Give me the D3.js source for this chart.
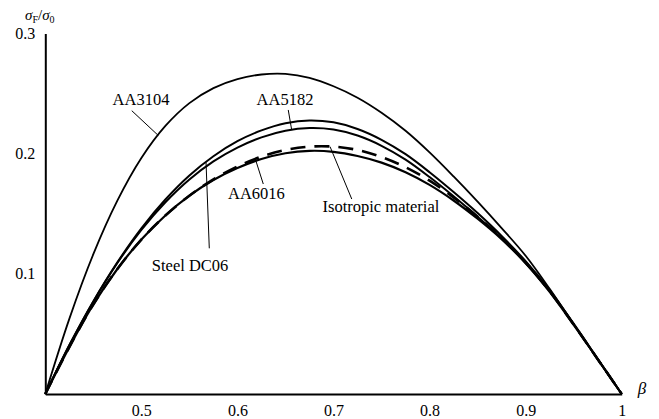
<!DOCTYPE html>
<html>
<head>
<meta charset="utf-8">
<script src="https://cdn.jsdelivr.net/npm/d3@7"></script>
<style>
  html, body { margin: 0; padding: 0; background: #fff; }
  svg { display: block; }
  svg text { font-family: "Liberation Serif", "DejaVu Serif", serif !important; fill: #000; }
</style>
</head>
<body>
<svg id="chart" width="659" height="419"></svg>
<script>
// Strain ratio beta (x) and normalised stress sigma_F/sigma_0 (y) for each material
const beta = [0.40, 0.425, 0.45, 0.475, 0.50, 0.525, 0.55, 0.575, 0.60, 0.625, 0.65, 0.675,
              0.70, 0.725, 0.75, 0.775, 0.80, 0.825, 0.85, 0.875, 0.90, 0.925, 0.95, 0.975, 1.00];

const aa3104 = [0, 0.0625, 0.1163, 0.1608, 0.1963, 0.2230, 0.2420, 0.2545, 0.2620, 0.2658, 0.2663, 0.2630,
                0.2560, 0.2465, 0.2340, 0.2190, 0.2010, 0.1810, 0.1600, 0.1380, 0.1150, 0.0875, 0.0580, 0.0290, 0];
const steelDC06 = [0, 0.0405, 0.0770, 0.1095, 0.1378, 0.1618, 0.1818, 0.1978, 0.2103, 0.2193, 0.2253, 0.2276,
                   0.2260, 0.2205, 0.2115, 0.1995, 0.1845, 0.1680, 0.1505, 0.1315, 0.1105, 0.0865, 0.0585, 0.0293, 0];
const aa5182 = [0, 0.0405, 0.0770, 0.1090, 0.1365, 0.1595, 0.1785, 0.1935, 0.2050, 0.2135, 0.2190, 0.2212,
                0.2200, 0.2150, 0.2065, 0.1950, 0.1805, 0.1645, 0.1475, 0.1295, 0.1090, 0.0855, 0.0580, 0.0290, 0];
const isotropic = [0, 0.0390, 0.0745, 0.1040, 0.1285, 0.1485, 0.1650, 0.1785, 0.1893, 0.1975, 0.2030, 0.2058,
                   0.2058, 0.2030, 0.1972, 0.1887, 0.1775, 0.1635, 0.1475, 0.1297, 0.1095, 0.0855, 0.0578, 0.0290, 0];
const aa6016 = [0, 0.0390, 0.0745, 0.1040, 0.1285, 0.1485, 0.1650, 0.1780, 0.1880, 0.1955, 0.2003, 0.2023,
                0.2015, 0.1980, 0.1925, 0.1845, 0.1740, 0.1610, 0.1458, 0.1288, 0.1088, 0.0850, 0.0575, 0.0290, 0];

const xTicks = [0.5, 0.6, 0.7, 0.8, 0.9, 1];
const yTicks = [0.1, 0.2, 0.3];

// Annotation texts, their anchor in data units, and where the leader meets its curve
const labelNames   = ["AA3104", "AA5182", "Steel DC06", "AA6016", "Isotropic material"];
const labelBeta    = [0.4996, 0.6495, 0.5507, 0.6198, 0.7494];
const labelValue   = [0.2454, 0.2454, 0.1073, 0.1664, 0.1564];
const leaderFromB  = [0.490, 0.6529, 0.5707, 0.6269, 0.7190];
const leaderFromV  = [0.2357, 0.2363, 0.1212, 0.1747, 0.1622];
const leaderToB    = [0.5176, 0.6565, 0.5673, 0.6193, 0.6964];

const series = [
  { name: "AA3104", values: aa3104, width: 1.8, dash: null },
  { name: "Steel DC06", values: steelDC06, width: 2.0, dash: null },
  { name: "AA5182", values: aa5182, width: 2.0, dash: null },
  { name: "AA6016", values: aa6016, width: 2.2, dash: null },
  { name: "Isotropic material", values: isotropic, width: 2.6, dash: "15,9" }
];

const FONT = "Liberation Serif, DejaVu Serif, serif";
const svg = d3.select("#chart").attr("font-family", FONT);
const x = d3.scaleLinear().domain([0.4, 1]).range([45.3, 621.7]);
const y = d3.scaleLinear().domain([0, 0.3]).range([394, 33.4]);

// Axes: plain lines with labels only
const xAxis = svg.append("g")
  .attr("transform", `translate(0,${y(0)})`)
  .call(d3.axisBottom(x).tickValues(xTicks).tickSize(0).tickPadding(11).tickFormat(d3.format("")));
const yAxis = svg.append("g")
  .attr("transform", `translate(${x(0.4)},0)`)
  .call(d3.axisLeft(y).tickValues(yTicks).tickSize(0).tickPadding(10).tickFormat(d3.format("")));
[xAxis, yAxis].forEach(g => {
  g.attr("font-family", FONT).attr("font-size", 16);
  g.select(".domain").attr("stroke", "#000").attr("stroke-width", 2);
  g.selectAll("text").attr("font-family", FONT).attr("font-size", 16);
});

// Curves
const line = d3.line()
  .x((d, i) => x(beta[i]))
  .y(d => y(d))
  .curve(d3.curveCatmullRom.alpha(0.5));

svg.append("g").selectAll("path")
  .data(series)
  .join("path")
  .attr("d", s => line(s.values))
  .attr("fill", "none")
  .attr("stroke", "#000")
  .attr("stroke-width", s => s.width)
  .attr("stroke-dasharray", s => s.dash)
  .attr("stroke-linejoin", "round");

// Value of a series at any beta, by linear interpolation of its points
function valueAt(values, b) {
  const i = Math.max(1, Math.min(beta.length - 1, d3.bisectLeft(beta, b)));
  const t = (b - beta[i - 1]) / (beta[i] - beta[i - 1]);
  return values[i - 1] + t * (values[i] - values[i - 1]);
}

// Annotations with leader lines
const ann = svg.append("g");
labelNames.forEach((name, i) => {
  const s = series.find(d => d.name === name);
  ann.append("line")
    .attr("x1", x(leaderFromB[i])).attr("y1", y(leaderFromV[i]))
    .attr("x2", x(leaderToB[i])).attr("y2", y(valueAt(s.values, leaderToB[i])))
    .attr("stroke", "#000").attr("stroke-width", 1);
  ann.append("text")
    .attr("x", x(labelBeta[i])).attr("y", y(labelValue[i]))
    .attr("text-anchor", "middle")
    .attr("dominant-baseline", "central")
    .attr("font-family", FONT)
    .attr("font-size", 16.5)
    .text(name);
});

// Axis titles
const yt = svg.append("text").attr("x", 25).attr("y", 20).attr("font-size", 15).attr("font-family", FONT);
yt.append("tspan").attr("font-style", "italic").text("σ");
yt.append("tspan").attr("font-size", 10).attr("dy", 3).text("F");
yt.append("tspan").attr("dy", -3).text("/");
yt.append("tspan").attr("font-style", "italic").text("σ");
yt.append("tspan").attr("font-size", 10).attr("dy", 3).text("0");

svg.append("text")
  .attr("x", 642).attr("y", 388)
  .attr("text-anchor", "middle")
  .attr("dominant-baseline", "central")
  .attr("font-family", FONT)
  .attr("font-style", "italic")
  .attr("font-size", 17)
  .text("β");
</script>
</body>
</html>
